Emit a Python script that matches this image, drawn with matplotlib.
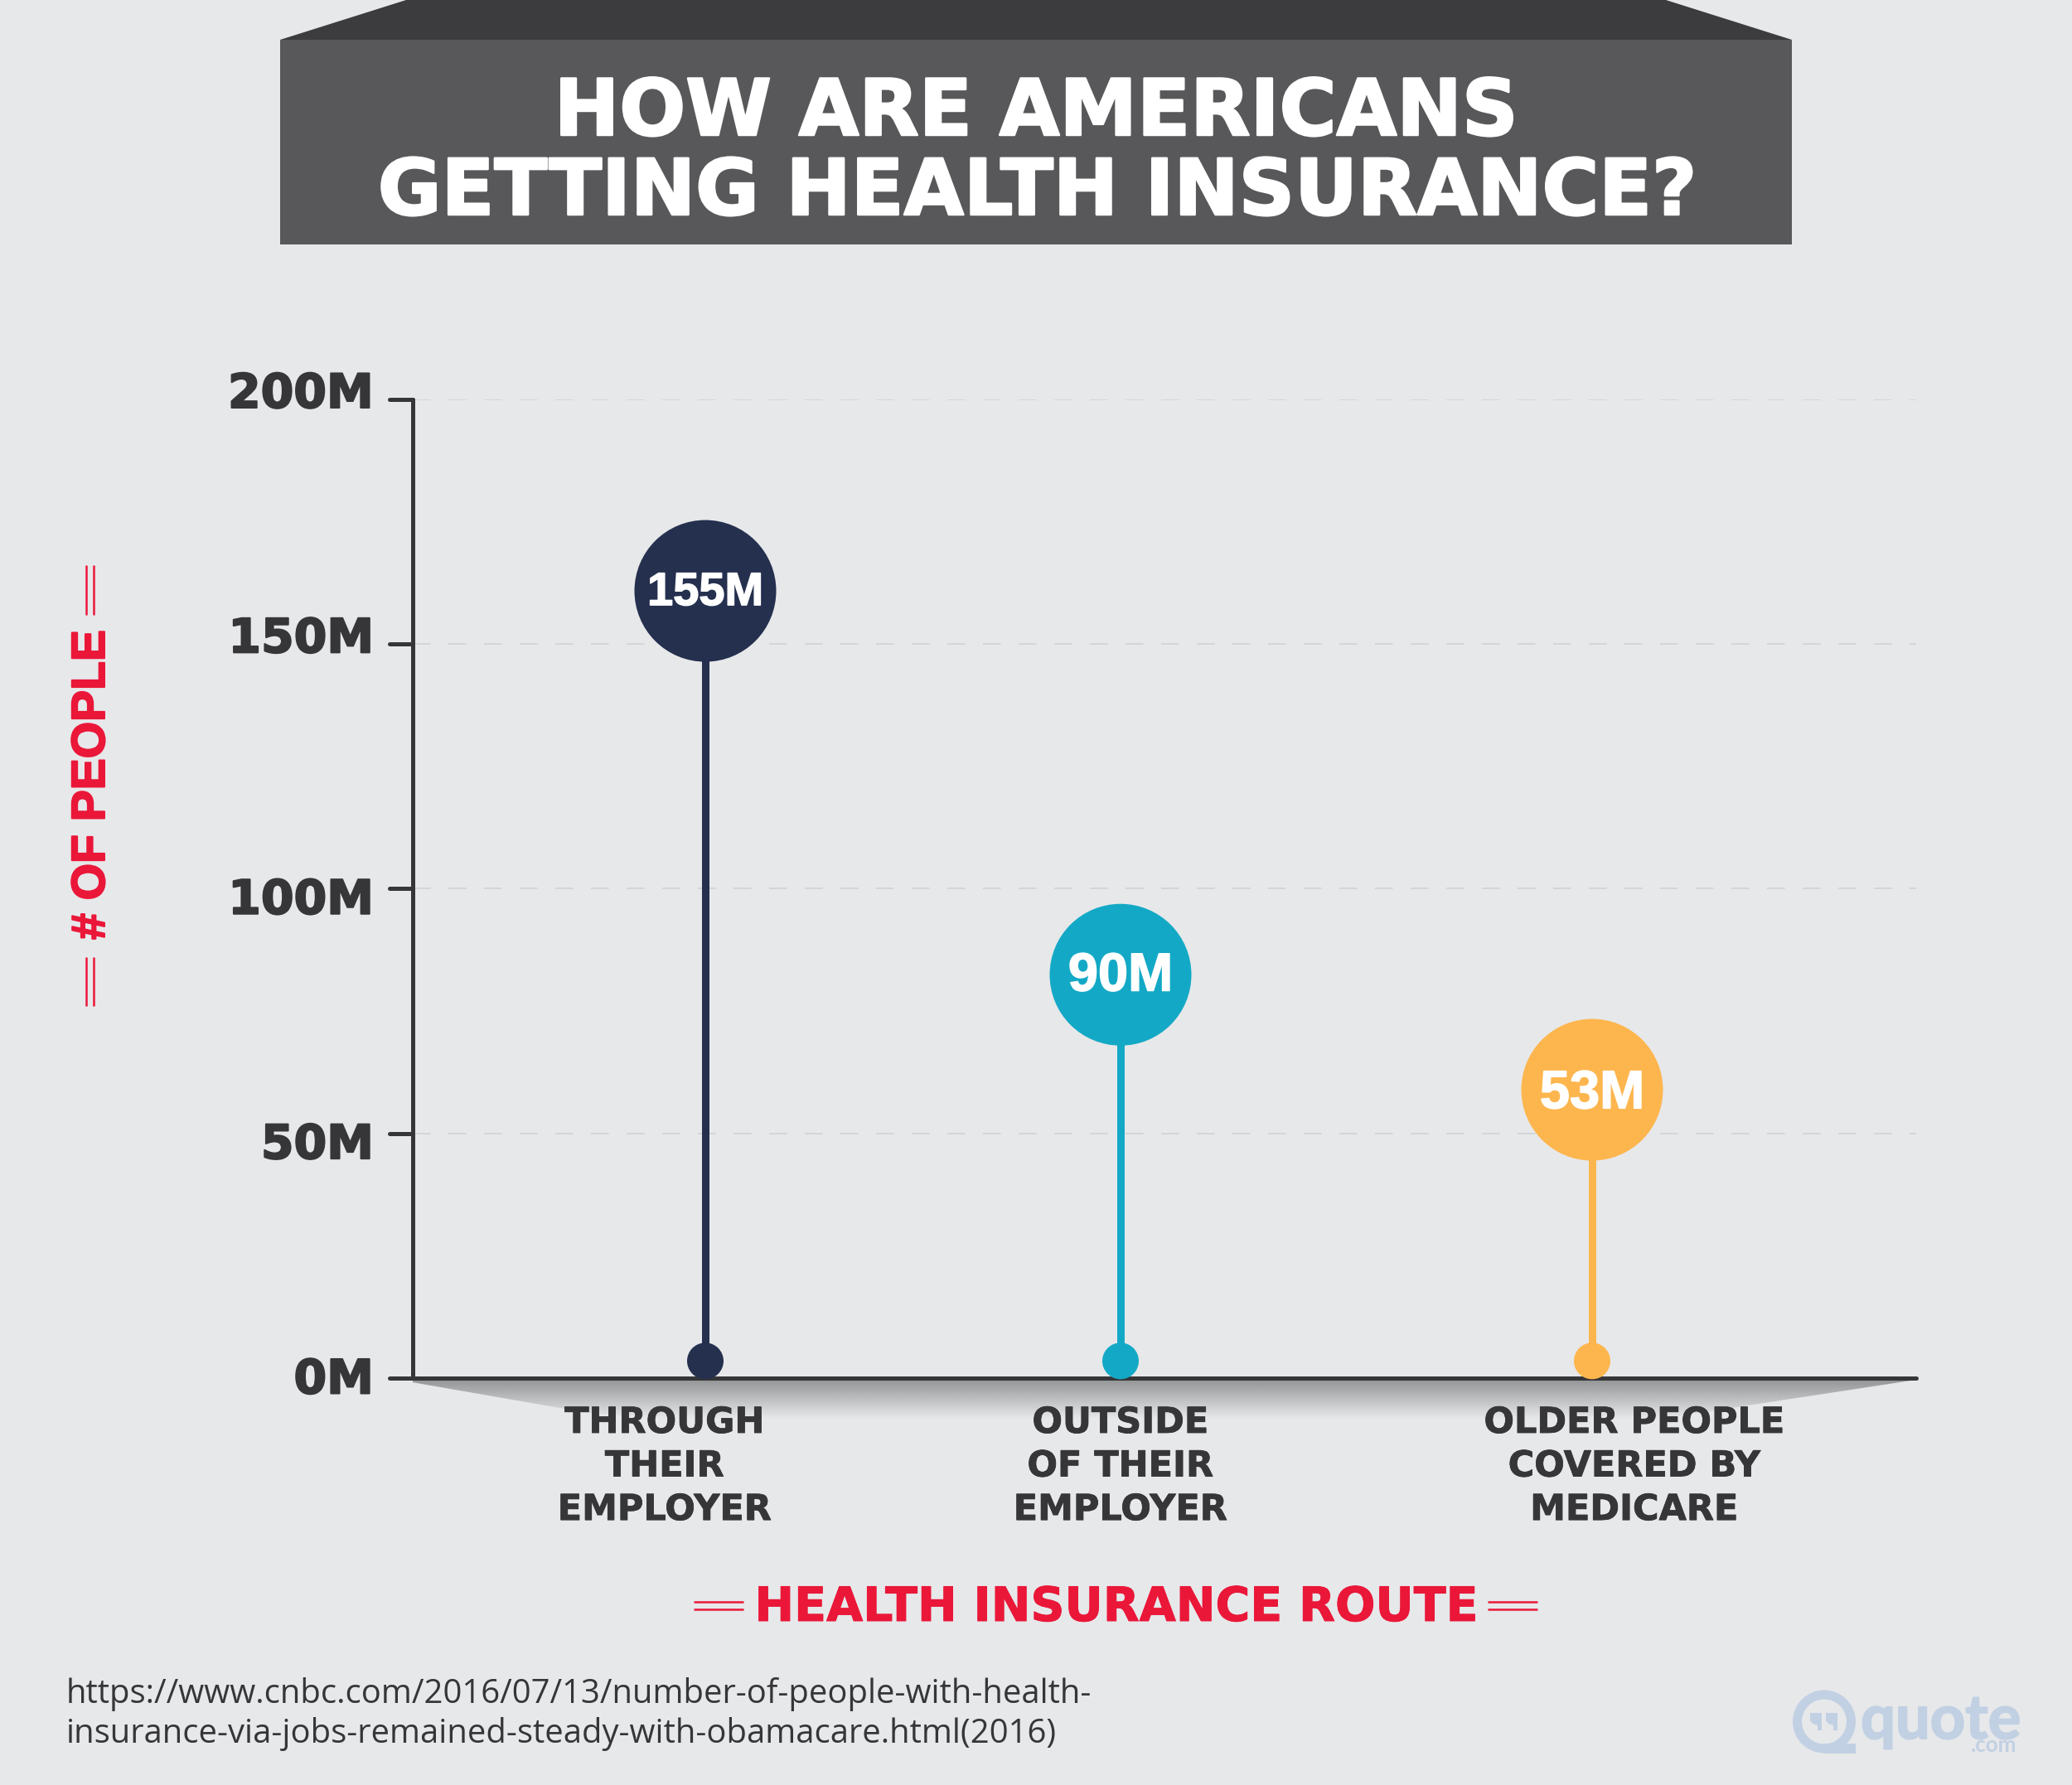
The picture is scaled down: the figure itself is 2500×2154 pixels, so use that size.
import numpy as np
import matplotlib
matplotlib.use("Agg")
import matplotlib.pyplot as plt
import matplotlib.patheffects as pe
from matplotlib.markers import MarkerStyle, TICKLEFT
from matplotlib.patches import Polygon, Rectangle, Circle
from matplotlib.transforms import ScaledTranslation

# data
routes = ["THROUGH\nTHEIR\nEMPLOYER", "OUTSIDE\nOF THEIR\nEMPLOYER", "OLDER PEOPLE\nCOVERED BY\nMEDICARE"]
value_labels = ["155M", "90M", "53M"]
drawn_heights = [160.8, 82.4, 58.9]  # where the circles actually sit on the axis
stem_base = 3.5
y_ticks = [0, 50, 100, 150, 200]
y_tick_labels = ["0M", "50M", "100M", "150M", "200M"]
colors = ["#25304f", "#13a9c6", "#fdb64e"]

BG = "#e7e8ea"
DARK = "#363638"
RED = "#ea1739"
W, H = 2500, 2154
DPI = 100
WIDE = "DejaVu Sans"
TIGHT = "Liberation Sans"


def px(n):
    # pixels to points
    return n * 72 / DPI


def thick(n, color):
    return [pe.withStroke(linewidth=px(n), foreground=color)]


fig = plt.figure(figsize=(W / DPI, H / DPI), dpi=DPI, facecolor=BG)

# overlay in pixel coordinates for the header and other decoration
bg = fig.add_axes([0, 0, 1, 1])
bg.set_xlim(0, W)
bg.set_ylim(H, 0)
bg.axis("off")

bg.add_patch(Polygon([(338, 48), (490, 0), (2010, 0), (2162, 48)], color="#3c3c3e", lw=0))
bg.add_patch(Rectangle((338, 48), 1824, 247, color="#58585a", lw=0))
bg.text(1250, 163, "HOW ARE AMERICANS", color="white", family=WIDE, weight="bold",
        fontsize=px(94), ha="center", va="baseline", path_effects=thick(2.5, "white"))
bg.text(1252, 259, "GETTING HEALTH INSURANCE?", color="white", family=WIDE, weight="bold",
        fontsize=px(93.5), ha="center", va="baseline", path_effects=thick(2.5, "white"))

# shadow under the x axis
grad = np.zeros((100, 2, 4))
grad[..., :3] = matplotlib.colors.to_rgb("#808183")
grad[..., 3] = np.linspace(0.8, 0, 100)[:, None]
im = bg.imshow(grad, extent=(498, 2312, 1712, 1665), aspect="auto", zorder=1, interpolation="bilinear")
clip = Polygon([(480, 1665), (2312, 1665), (2050, 1705), (2000, 1712), (800, 1712), (710, 1705)],
               transform=bg.transData)
im.set_clip_path(clip)
bg.set_xlim(0, W)
bg.set_ylim(H, 0)

# axis titles with their double rules
bg.text(1347, 1956, "HEALTH INSURANCE ROUTE", color=RED, family=WIDE, weight="bold",
        fontsize=px(57), ha="center", va="baseline", path_effects=thick(1, RED))
bg.text(111, 947, "# OF PEOPLE", color=RED, family=TIGHT, weight="bold",
        fontsize=px(57), ha="center", va="center", rotation=90, path_effects=thick(2, RED))
for x0, x1 in [(837, 897), (1795, 1855)]:
    bg.hlines([1933, 1942], x0, x1, color=RED, lw=px(2.5))
for y0, y1 in [(682, 742), (1155, 1214)]:
    bg.vlines([104, 113], y0, y1, color=RED, lw=px(2.5))

# source
bg.text(80, 2055, "https://www.cnbc.com/2016/07/13/number-of-people-with-health-", color=DARK,
        family="Open Sans", fontsize=px(40), ha="left", va="baseline")
bg.text(80, 2103, "insurance-via-jobs-remained-steady-with-obamacare.html(2016)", color=DARK,
        family="Open Sans", fontsize=px(40), ha="left", va="baseline")

# logo
LOGO = "#c1d0e3"
bg.add_patch(Circle((2201, 2077.5), 32.5, fc="none", ec=LOGO, lw=px(11)))
bg.add_patch(Rectangle((2201, 2104), 38, 12, color=LOGO, lw=0))
for qx in [2184, 2203]:
    bg.add_patch(Polygon([(qx, 2067), (qx + 14, 2067), (qx + 14, 2088), (qx + 9, 2088), (qx + 9, 2082),
                          (qx + 3, 2080), (qx, 2076)], color=LOGO, lw=0))
bg.text(2245, 2098, "quote", color=LOGO, family="Lato", weight="bold",
        fontsize=px(74), ha="left", va="baseline", path_effects=thick(2, LOGO))
bg.text(2433, 2114, ".com", color=LOGO, family="Lato", weight="bold", fontsize=px(26), ha="right", va="baseline")

# main chart
ax = fig.add_axes([498 / W, (H - 1663) / H, (2312 - 498) / W, (1663 - 481.5) / H])
ax.patch.set_alpha(0)
ax.set_xlim(498, 2312)
ax.set_ylim(0, 200)
for side in ["top", "right"]:
    ax.spines[side].set_visible(False)
for side in ["left", "bottom"]:
    ax.spines[side].set_color(DARK)
    ax.spines[side].set_linewidth(px(5))
    ax.spines[side].set_capstyle("round")

ax.set_yticks(y_ticks, labels=y_tick_labels, family=WIDE, weight="bold", fontsize=px(57), color=DARK)
ax.tick_params(axis="y", length=px(28), width=px(5), color=DARK, pad=px(19))
label_shift = [3, -9, -9, 11, 11]  # the artwork nudges each label by hand
for tick, shift in zip(ax.yaxis.get_major_ticks(), label_shift):
    tick.label1.set_transform(tick.label1.get_transform() + ScaledTranslation(0, shift / DPI, fig.dpi_scale_trans))
    tick.label1.set_path_effects(thick(2, DARK))
    tick.tick1line.set_marker(MarkerStyle(TICKLEFT, capstyle="round"))

ax.set_xticks([802, 1352, 1972], labels=routes, family=WIDE, weight="bold", fontsize=px(43),
              color=DARK, linespacing=1.32, path_effects=thick(0.8, DARK))
ax.tick_params(axis="x", length=0, pad=px(33))

ax.hlines(y_ticks[1:], 498, 2312, color="#d4d5d7", lw=px(2), linestyles=(0, (10.8, 10.7)), zorder=0)

stem_x = [851, 1352, 1921]
ax.vlines(stem_x, stem_base, drawn_heights, colors=colors, lw=px(9), zorder=3)
ax.scatter(stem_x, [stem_base] * 3, s=px(44) ** 2, c=colors, lw=0, zorder=4, clip_on=False)
ax.scatter(stem_x, drawn_heights, s=px(171) ** 2, c=colors, lw=0, zorder=4, clip_on=False)

label_sizes = [56, 65, 65]
label_lift = [3, 4, 1]
for x, y, label, size, lift in zip(stem_x, drawn_heights, value_labels, label_sizes, label_lift):
    drop = -0.716 * size / 2 + lift
    ax.annotate(label, (x, y), xytext=(0, px(drop)), textcoords="offset points", color="white",
                family=TIGHT, weight="bold", fontsize=px(size), ha="center", va="baseline",
                zorder=5, path_effects=thick(1.5, "white"))

fig.savefig("out.png", dpi=DPI, facecolor=BG)
